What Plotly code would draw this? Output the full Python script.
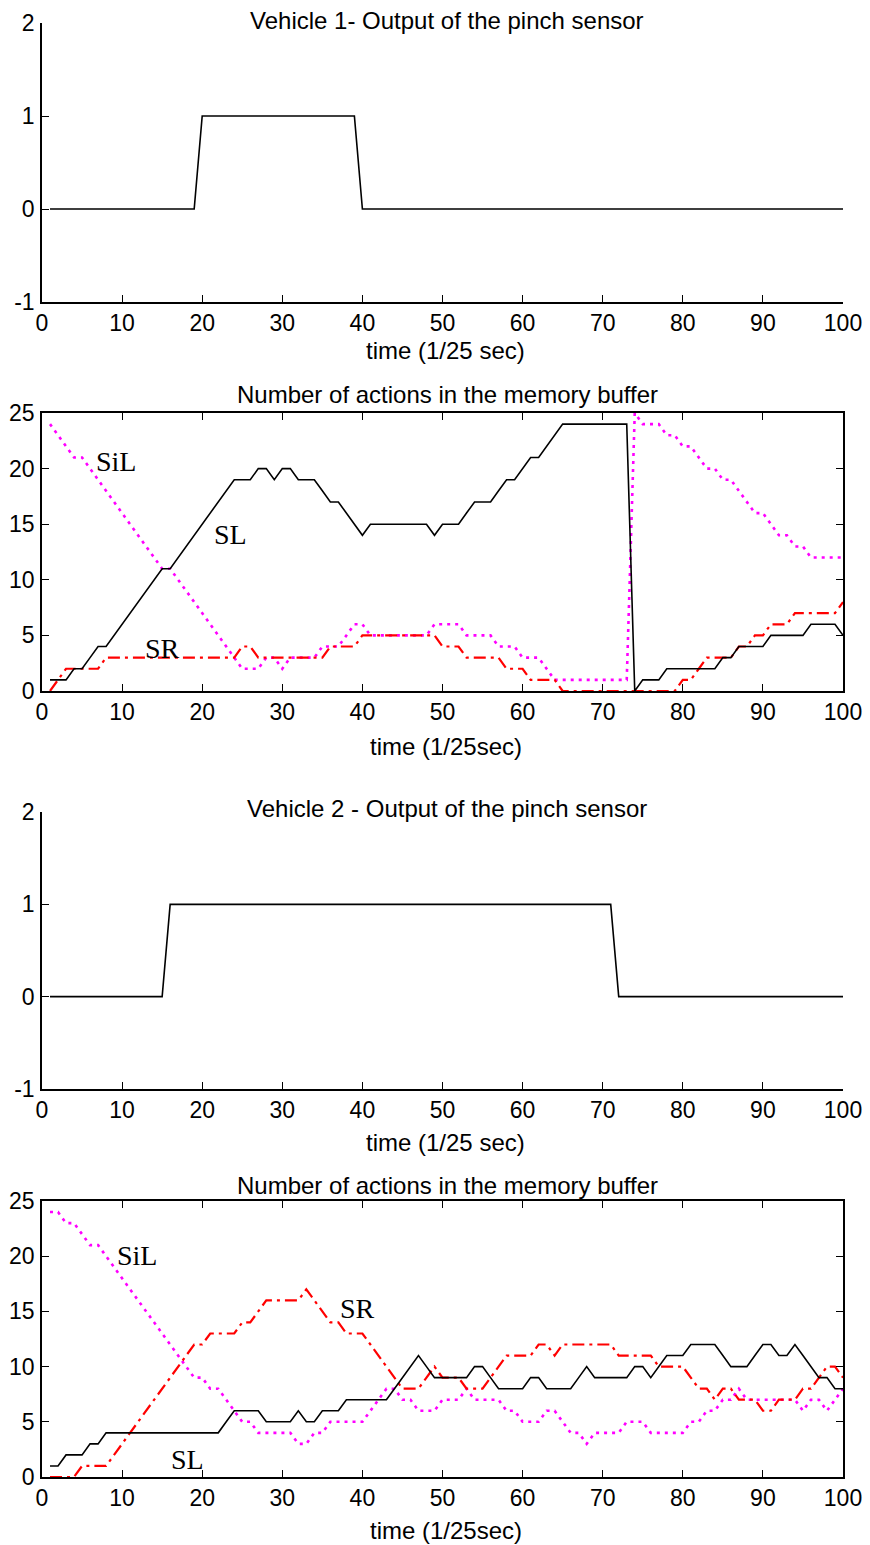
import plotly.graph_objects as go

# ---- data -------------------------------------------------------------
t = list(range(1, 101))

# Vehicle 1
v1_pinch = [0] * 19 + [1] * 20 + [0] * 61
v1_SL = [1, 1, 1, 2, 2, 3, 4, 4, 5, 6,
         7, 8, 9, 10, 11, 11, 12, 13, 14, 15,
         16, 17, 18, 19, 19, 19, 20, 20, 19, 20,
         20, 19, 19, 19, 18, 17, 17, 16, 15, 14,
         15, 15, 15, 15, 15, 15, 15, 15, 14, 15,
         15, 15, 16, 17, 17, 17, 18, 19, 19, 20,
         21, 21, 22, 23, 24, 24, 24, 24, 24, 24,
         24, 24, 24, 0, 1, 1, 1, 2, 2, 2,
         2, 2, 2, 2, 3, 3, 4, 4, 4, 4,
         5, 5, 5, 5, 5, 6, 6, 6, 6, 5]
v1_SR = [0, 1, 2, 2, 2, 2, 2, 3, 3, 3,
         3, 3, 3, 3, 3, 3, 3, 3, 3, 3,
         3, 3, 3, 3, 4, 4, 3, 3, 3, 3,
         3, 3, 3, 3, 3, 4, 4, 4, 4, 5,
         5, 5, 5, 5, 5, 5, 5, 5, 5, 4,
         4, 4, 3, 3, 3, 3, 3, 2, 2, 2,
         1, 1, 1, 1, 0, 0, 0, 0, 0, 0,
         0, 0, 0, 0, 0, 0, 0, 0, 0, 1,
         1, 2, 3, 3, 3, 3, 4, 4, 5, 5,
         6, 6, 6, 7, 7, 7, 7, 7, 7, 8]
v1_SiL = [24, 23, 22, 21, 21, 20, 19, 18, 17, 16,
          15, 14, 13, 12, 11, 11, 10, 9, 8, 7,
          6, 5, 4, 3, 2, 2, 2, 3, 3, 2,
          3, 3, 3, 3, 4, 4, 4, 5, 6, 6,
          5, 5, 5, 5, 5, 5, 5, 5, 6, 6,
          6, 6, 5, 5, 5, 5, 4, 4, 4, 3,
          3, 3, 2, 1, 1, 1, 1, 1, 1, 1,
          1, 1, 1, 25, 24, 24, 24, 23, 23, 22,
          22, 21, 20, 20, 19, 19, 18, 17, 16, 16,
          15, 14, 14, 13, 13, 12, 12, 12, 12, 12]

# Vehicle 2
v2_pinch = [0] * 15 + [1] * 56 + [0] * 29
v2_SL = [1, 1, 2, 2, 2, 3, 3, 4, 4, 4,
         4, 4, 4, 4, 4, 4, 4, 4, 4, 4,
         4, 4, 5, 6, 6, 6, 6, 5, 5, 5,
         5, 6, 5, 5, 6, 6, 6, 7, 7, 7,
         7, 7, 7, 8, 9, 10, 11, 10, 9, 9,
         9, 9, 9, 10, 10, 9, 8, 8, 8, 8,
         9, 9, 8, 8, 8, 8, 9, 10, 9, 9,
         9, 9, 9, 10, 10, 9, 10, 11, 11, 11,
         12, 12, 12, 12, 11, 10, 10, 10, 11, 12,
         12, 11, 11, 12, 11, 10, 9, 9, 8, 8]
v2_SR = [0, 0, 0, 0, 1, 1, 1, 1, 2, 3,
         4, 5, 6, 7, 8, 9, 10, 11, 12, 12,
         13, 13, 13, 13, 14, 14, 15, 16, 16, 16,
         16, 16, 17, 16, 15, 14, 14, 13, 13, 13,
         12, 11, 10, 9, 8, 8, 8, 9, 10, 9,
         9, 9, 8, 8, 8, 9, 10, 11, 11, 11,
         11, 12, 12, 11, 12, 12, 12, 12, 12, 12,
         12, 11, 11, 11, 11, 11, 10, 10, 10, 10,
         9, 8, 8, 7, 8, 8, 7, 7, 7, 6,
         6, 7, 7, 7, 8, 8, 9, 10, 10, 9]
v2_SiL = [24, 24, 23, 23, 22, 21, 21, 20, 19, 18,
          17, 16, 15, 14, 13, 12, 11, 10, 9, 9,
          8, 8, 7, 6, 5, 5, 4, 4, 4, 4,
          4, 3, 3, 4, 4, 5, 5, 5, 5, 5,
          6, 7, 8, 8, 7, 7, 6, 6, 6, 7,
          7, 7, 8, 7, 7, 7, 7, 6, 6, 5,
          5, 5, 6, 6, 5, 4, 4, 3, 4, 4,
          4, 4, 5, 5, 5, 4, 4, 4, 4, 4,
          5, 5, 6, 6, 7, 7, 8, 7, 7, 7,
          7, 7, 7, 7, 6, 7, 7, 6, 7, 8]

pinch_title_1 = "Vehicle 1- Output of the pinch sensor"
pinch_title_2 = "Vehicle 2 - Output of the pinch sensor"
buffer_title = "Number of actions in the memory buffer"
xlabel_pinch = "time (1/25 sec)"
xlabel_buffer = "time (1/25sec)"

x_ticks = list(range(0, 101, 10))
pinch_ticks = [-1, 0, 1, 2]
pinch_ticktext = ["-1", "0", "1", "2"]
buffer_ticks = [0, 5, 10, 15, 20, 25]

# ---- geometry (pixels in an 870 x 1545 page) -------------------------
W, H = 870, 1545
X0, X1 = 42, 843
panels = [  # (top px, bottom px)
    (23, 302),
    (413, 691),
    (812, 1089),
    (1201, 1477),
]


def py(p):
    return 1 - p / H


def px(p):
    return p / W


SANS = "Liberation Sans, Arial, sans-serif"
SERIF = "Liberation Serif, Times New Roman, serif"
TICK_FONT = dict(family=SANS, size=23, color="black")

fig = go.Figure()

BLACK = dict(color="black", width=1.6)
RED = dict(color="#ff0000", width=2.2, dash="12px,5px,3px,5px")
MAGENTA = dict(color="#ff00ff", width=2.6, dash="3px,5px")

# pinch sensor panels
fig.add_trace(go.Scatter(x=t, y=v1_pinch, mode="lines", line=BLACK, xaxis="x", yaxis="y"))
fig.add_trace(go.Scatter(x=t, y=v2_pinch, mode="lines", line=BLACK, xaxis="x3", yaxis="y3"))

# memory buffer panels
for xa, ya, sl, sr, sil in [("x2", "y2", v1_SL, v1_SR, v1_SiL),
                            ("x4", "y4", v2_SL, v2_SR, v2_SiL)]:
    fig.add_trace(go.Scatter(x=t, y=sil, mode="lines", line=MAGENTA, xaxis=xa, yaxis=ya))
    fig.add_trace(go.Scatter(x=t, y=sr, mode="lines", line=RED, xaxis=xa, yaxis=ya))
    fig.add_trace(go.Scatter(x=t, y=sl, mode="lines", line=BLACK, xaxis=xa, yaxis=ya))

layout = dict(
    width=W, height=H,
    margin=dict(l=0, r=0, t=0, b=0),
    paper_bgcolor="white", plot_bgcolor="white",
    showlegend=False,
)

for i, (top, bot) in enumerate(panels, start=1):
    boxed = i in (2, 4)
    sfx = "" if i == 1 else str(i)
    axis_common = dict(
        showline=True, linecolor="black", linewidth=1.5,
        ticks="inside", ticklen=7, tickwidth=1.3, tickcolor="black",
        showgrid=False, zeroline=False,
        tickfont=TICK_FONT,
        mirror="ticks" if boxed else False,
        automargin=False,
    )
    layout["xaxis" + sfx] = dict(
        axis_common,
        domain=[px(X0), px(X1)],
        range=[0, 100], tickvals=x_ticks,
        anchor="y" + sfx,
        ticklabelstandoff=0,
    )
    yr = [0, 25] if boxed else [-1, 2]
    yt = buffer_ticks if boxed else pinch_ticks
    ytt = [str(v) for v in buffer_ticks] if boxed else pinch_ticktext
    layout["yaxis" + sfx] = dict(
        axis_common,
        domain=[py(bot), py(top)],
        range=yr, tickvals=yt, ticktext=ytt,
        anchor="x" + sfx,
        ticklabelstandoff=1,
    )

fig.update_layout(**layout)

# panel titles and x-axis labels
LABEL_FONT = dict(family=SANS, size=24, color="black")
titles = [(pinch_title_1, 21, xlabel_pinch, 351),
          (buffer_title, 395, xlabel_buffer, 747),
          (pinch_title_2, 808, xlabel_pinch, 1142),
          (buffer_title, 1185, xlabel_buffer, 1530)]
for text, ty, xl, xy in titles:
    fig.add_annotation(text=text, x=px(447), y=py(ty), xref="paper", yref="paper",
                       showarrow=False, xanchor="center", yanchor="middle",
                       font=LABEL_FONT)
    fig.add_annotation(text=xl, x=px(446), y=py(xy), xref="paper", yref="paper",
                       showarrow=False, xanchor="center", yanchor="middle",
                       font=LABEL_FONT)

# curve labels
curve_labels = [("SiL", 9.3, 20.6, "x2", "y2"),
                ("SL", 23.5, 14.1, "x2", "y2"),
                ("SR", 15.0, 3.8, "x2", "y2"),
                ("SiL", 11.9, 20.1, "x4", "y4"),
                ("SR", 39.4, 15.3, "x4", "y4"),
                ("SL", 18.2, 1.6, "x4", "y4")]
for text, x, y, xr, yr in curve_labels:
    fig.add_annotation(text=text, x=x, y=y, xref=xr, yref=yr, showarrow=False,
                       xanchor="center", yanchor="middle",
                       font=dict(family=SERIF, size=28, color="black"))

fig.write_html("out.html")
